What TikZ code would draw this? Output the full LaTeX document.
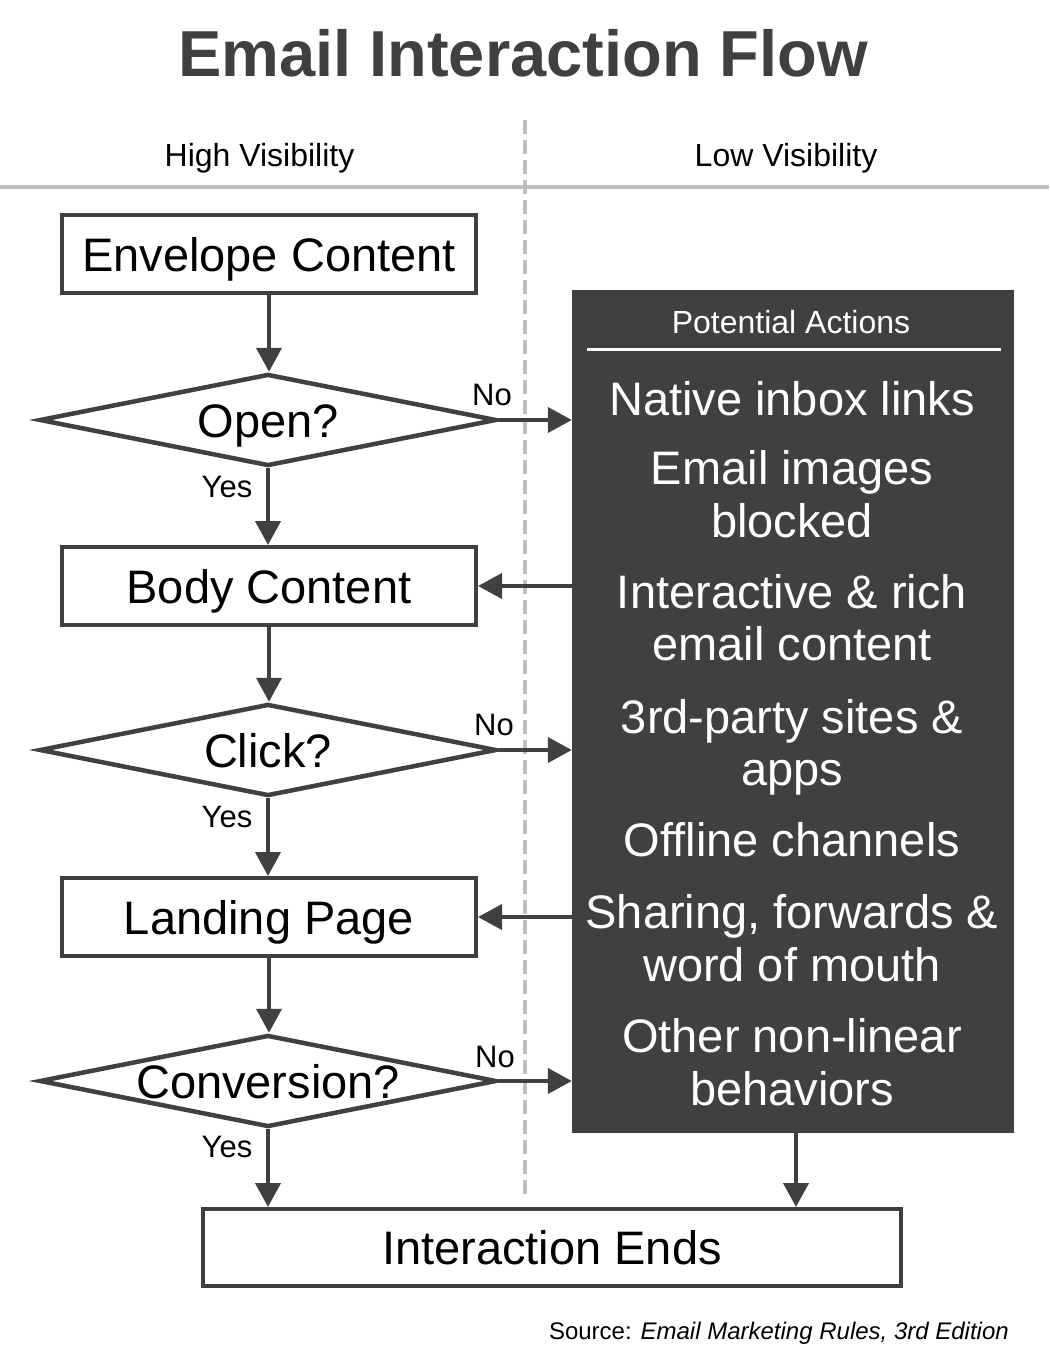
\documentclass[tikz,border=0pt]{standalone}
\usepackage{fontspec}
\setmainfont{Liberation Sans}
\usetikzlibrary{arrows.meta,shapes.geometric}
\definecolor{dk}{HTML}{404040}
\definecolor{lg}{HTML}{BFBFBF}
\begin{document}
\begin{tikzpicture}[x=1pt,y=-1pt,
  box/.style={draw=dk,line width=4pt,fill=white,minimum width=414pt,minimum height=78pt,inner sep=0pt,font=\fontsize{47}{52}\selectfont,text height=34pt,text depth=0pt},
  dec/.style={draw=dk,line width=4.5pt,fill=white,shape=diamond,aspect=4.8,minimum width=457pt,minimum height=92pt,inner sep=0pt,font=\fontsize{47}{52}\selectfont,text height=34pt,text depth=0pt},
  arr/.style={draw=dk,line width=4pt,-{Triangle[length=24pt,width=25pt]}},
  lab/.style={font=\fontsize{31}{34}\selectfont,anchor=base,inner sep=0pt},
  hdr/.style={font=\fontsize{32}{36}\selectfont,anchor=base,inner sep=0pt},
  act/.style={text=white,font=\fontsize{47}{52}\selectfont,anchor=base,inner sep=0pt}]
\useasboundingbox (0,0) rectangle (1049,1367);
\fill[white] (0,0) rectangle (1049,1367);
% separators
\draw[lg,line width=4pt] (0,187) -- (1049,187);
\draw[lg,line width=4pt,dash pattern=on 14pt off 6pt] (525,120) -- (525,1195);
% title and headers
\node[anchor=base,text=dk,font=\bfseries\fontsize{65}{70}\selectfont,inner sep=0pt] (title) at (523,77) {Email Interaction Flow};
\node[hdr] (hv) at (259.5,167) {High Visibility};
\node[hdr] (lv) at (786,167) {Low Visibility};
% left column
\node[box] (env) at (269,254) {Envelope Content};
\node[dec] (open) at (268,420) {Open?};
\node[box] (body) at (269,586) {Body Content};
\node[dec] (click) at (268,750) {Click?};
\node[box] (land) at (269,917) {Landing Page};
\node[dec] (conv) at (268,1081) {Conversion?};
\node[box,minimum width=698pt,minimum height=77pt] (ends) at (552,1247.5) {Interaction Ends};
% potential actions box
\node[fill=dk,minimum width=442pt,minimum height=843pt,inner sep=0pt] (pa) at (793,711.5) {};
\node[hdr,text=white] (pat) at (791,333) {Potential Actions};
\draw[white,line width=3pt] (587,349) -- (1001,349);
\node[act] (a1) at (792,415) {Native inbox links};
\node[act] (a2) at (792,484) {Email images};
\node[act] (a3) at (792,537) {blocked};
\node[act] (a4) at (792,608) {Interactive \& rich};
\node[act] (a5) at (792,660) {email content};
\node[act] (a6) at (792,733) {3rd-party sites \&};
\node[act] (a7) at (792,785) {apps};
\node[act] (a8) at (792,856) {Offline channels};
\node[act] (a9) at (792,928) {Sharing, forwards \&};
\node[act] (a10) at (792,981) {word of mouth};
\node[act] (a11) at (792,1052) {Other non-linear};
\node[act] (a12) at (792,1105) {behaviors};
% connectors
\draw[arr] (env.south) -- (env.south |- open.north);
\draw[arr] (open.south) -- (open.south |- body.north);
\draw[arr] (body.south) -- (body.south |- click.north);
\draw[arr] (click.south) -- (click.south |- land.north);
\draw[arr] (land.south) -- (land.south |- conv.north);
\draw[arr] (conv.south) -- (conv.south |- ends.north);
\draw[arr] (open.east) -- (open.east -| pa.west);
\draw[arr] (click.east) -- (click.east -| pa.west);
\draw[arr] (conv.east) -- (conv.east -| pa.west);
\draw[arr] (pa.west |- body.east) -- (body.east);
\draw[arr] (pa.west |- land.east) -- (land.east);
\draw[arr] ([xshift=3pt]pa.south) -- ([xshift=3pt]pa.south |- ends.north);
% labels
\node[lab] (no1) at (492,405) {No};
\node[lab] (no2) at (494,735) {No};
\node[lab] (no3) at (495,1067) {No};
\node[lab] (yes1) at (227,497) {Yes};
\node[lab] (yes2) at (227,827) {Yes};
\node[lab] (yes3) at (227,1157) {Yes};
% source
\node[anchor=base east,font=\fontsize{24}{28}\selectfont,inner sep=0pt] (src) at (1009,1339) {Source: \textit{Email Marketing Rules, 3rd Edition}};
\end{tikzpicture}
\end{document}
